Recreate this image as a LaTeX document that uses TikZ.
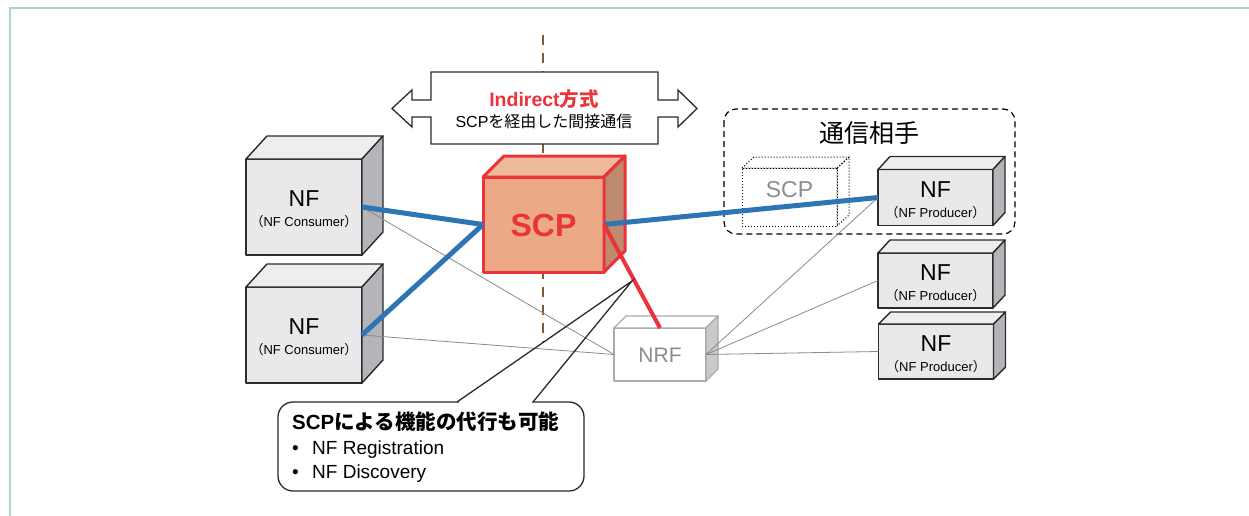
\documentclass[tikz,border=0pt]{standalone}
\usepackage{fontspec}
\setmainfont{Liberation Sans}
\newfontfamily\cjk{Noto Sans CJK JP}
\usetikzlibrary{calc}

\definecolor{frameteal}{HTML}{A8D5CE}
\definecolor{linkblue}{HTML}{2E75B6}
\definecolor{scpred}{HTML}{E8343A}
\definecolor{scpfront}{HTML}{EBA985}
\definecolor{scptop}{HTML}{EFB99B}
\definecolor{scpside}{HTML}{BE8A70}
\definecolor{nffront}{HTML}{E9E9EB}
\definecolor{nftop}{HTML}{EEEEF0}
\definecolor{nfside}{HTML}{B4B5B9}
\definecolor{nfedge}{HTML}{2B2B2B}
\definecolor{nrfedge}{HTML}{ABABAB}
\definecolor{nrfside}{HTML}{CACACC}
\definecolor{ghost}{HTML}{8C8C8C}
\definecolor{thingray}{HTML}{8A8A8A}
\definecolor{axis}{HTML}{7F5A3A}

% top and right faces of a box whose front face is the node #1
\newcommand\boxfaces[5]{%
  \draw[#4] (#1.north west) -- ++(#2,-#3) -- ([shift={(#2,-#3)}]#1.north east) -- (#1.north east) -- cycle;
  \draw[#5] (#1.north east) -- ([shift={(#2,-#3)}]#1.north east) -- ([shift={(#2,-#3)}]#1.south east) -- (#1.south east) -- cycle;
}
\newcommand\jp[1]{{\cjk #1}}

\tikzset{
  face/.style={rectangle, inner sep=0, outer sep=0},
  nfface/.style={face, draw=nfedge, fill=nffront, line width=1.4pt, line join=round},
  nftopf/.style={draw=nfedge, fill=nftop, line width=1.4pt, line join=round},
  nfsidef/.style={draw=nfedge, fill=nfside, line width=1.4pt, line join=round},
  scpface/.style={face, draw=scpred, fill=scpfront, line width=3pt, line join=round},
  scptopf/.style={draw=scpred, fill=scptop, line width=3pt, line join=round},
  scpsidef/.style={draw=scpred, fill=scpside, line width=3pt, line join=round},
  nrfface/.style={face, draw=nrfedge, fill=white, line width=1.3pt, line join=round},
  nrftopf/.style={draw=nrfedge, fill=white, line width=1.3pt, line join=round},
  nrfsidef/.style={draw=nrfedge, fill=nrfside, line width=1.3pt, line join=round},
  dotface/.style={face, draw=black, dotted, line width=1pt},
  dotf/.style={draw=black, dotted, line width=1pt},
  nfmain/.style={anchor=base, inner sep=0, font=\fontsize{23}{23}\selectfont},
  nfsub/.style={anchor=base, inner sep=0, font=\fontsize{13}{13}\selectfont},
  bluelink/.style={draw=linkblue, line width=5pt},
  redlink/.style={draw=scpred, line width=4pt},
  thinlink/.style={draw=thingray, line width=0.8pt},
  txt/.style={inner sep=0, anchor=base west},
}

\begin{document}
\begin{tikzpicture}[x=1pt, y=-1pt]
\useasboundingbox (0,0) rectangle (1249,516);
\fill[white] (0,0) rectangle (1249,516);

% outer frame
\draw[frameteal, line width=2pt] (10,516) -- (10,8) -- (1249,8);

% boundary between the two sides
\draw[axis, line width=2pt, dash pattern=on 10pt off 8pt] (543,35) -- (543,342);

% double-headed arrow banner
\draw[fill=white, draw=nfedge, line width=1.3pt, line join=miter]
  (431,72) -- (658,72) -- (658,100) -- (678,100) -- (678,90) -- (697,108.5)
  -- (678,127) -- (678,117) -- (658,117) -- (658,144) -- (431,144) -- (431,117)
  -- (412,117) -- (412,127) -- (392,108.5) -- (412,90) -- (412,100) -- (431,100) -- cycle;
\node[anchor=base, inner sep=0, text=scpred, font=\fontsize{19.5}{19.5}\selectfont\bfseries] (ttl)
  at (544,106.5) {Indirect\jp{方式}};
\node[anchor=base, inner sep=0, font=\fontsize{16}{16}\selectfont] (sub)
  at (544,128) {SCP\jp{を経由した間接通信}};

% partner group
\draw[dashed, dash pattern=on 6pt off 4pt, line width=1.2pt, rounded corners=12pt]
  (724,109) rectangle (1015,234);
\node[inner sep=0, font=\fontsize{25}{25}\selectfont] (partner) at (869,133) {\jp{通信相手}};

% ---- boxes ----
% consumers
\node[nfface, minimum width=116, minimum height=96] (nfc1) at (304,207) {};
\boxfaces{nfc1}{21}{23}{nftopf}{nfsidef}
\node[nfmain] (nfc1a) at ([yshift=1pt]nfc1.center) {NF};
\node[nfsub] (nfc1b) at ([yshift=-19.5pt]nfc1.center) {\jp{（}NF Consumer\jp{）}};

\node[nfface, minimum width=116, minimum height=96] (nfc2) at (304,335) {};
\boxfaces{nfc2}{21}{23}{nftopf}{nfsidef}
\node[nfmain] (nfc2a) at ([yshift=1pt]nfc2.center) {NF};
\node[nfsub] (nfc2b) at ([yshift=-19.5pt]nfc2.center) {\jp{（}NF Consumer\jp{）}};

% SCP
\node[scpface, minimum width=121, minimum height=95] (scp) at (543.5,224.5) {};
\boxfaces{scp}{21}{21}{scptopf}{scpsidef}
\node[anchor=base, inner sep=0, text=scpred, font=\fontsize{32}{32}\selectfont\bfseries] (scpt)
  at ([yshift=-12pt]scp.center) {SCP};

% SCP on the partner side (dotted)
\node[dotface, minimum width=95, minimum height=58] (scpd) at (789.5,197) {};
\boxfaces{scpd}{12}{11}{dotf}{dotf}
\node[anchor=base, inner sep=0, text=ghost, font=\fontsize{23}{23}\selectfont] (scpdt)
  at (scpd.center) {SCP};

% producers
\node[nfface, minimum width=115, minimum height=56] (nfp1) at (935.5,197.5) {};
\boxfaces{nfp1}{12}{13}{nftopf}{nfsidef}
\node[nfmain] (nfp1a) at ([yshift=0.5pt]nfp1.center) {NF};
\node[nfsub] (nfp1b) at ([yshift=-19.5pt]nfp1.center) {\jp{（}NF Producer\jp{）}};

\node[nfface, minimum width=115, minimum height=55] (nfp2) at (935.5,280.5) {};
\boxfaces{nfp2}{12}{13}{nftopf}{nfsidef}
\node[nfmain] (nfp2a) at ([yshift=0.5pt]nfp2.center) {NF};
\node[nfsub] (nfp2b) at ([yshift=-19.5pt]nfp2.center) {\jp{（}NF Producer\jp{）}};

\node[nfface, minimum width=115, minimum height=55] (nfp3) at (936,351.5) {};
\boxfaces{nfp3}{12}{12}{nftopf}{nfsidef}
\node[nfmain] (nfp3a) at ([yshift=0.5pt]nfp3.center) {NF};
\node[nfsub] (nfp3b) at ([yshift=-19.5pt]nfp3.center) {\jp{（}NF Producer\jp{）}};

% NRF
\node[nrfface, minimum width=92, minimum height=53] (nrf) at (660,354.5) {};
\boxfaces{nrf}{12}{12}{nrftopf}{nrfsidef}
\node[anchor=base, inner sep=0, text=ghost, font=\fontsize{21}{21}\selectfont] (nrft)
  at ([yshift=-8pt]nrf.center) {NRF};

% ---- connections ----
\draw[thinlink] (nfc1.east) -- (nrf.west);
\draw[thinlink] (nfc2.east) -- (nrf.west);
\draw[thinlink] (nrf.east) -- (nfp1.west);
\draw[thinlink] (nrf.east) -- (nfp2.west);
\draw[thinlink] (nrf.east) -- (nfp3.west);

\draw[bluelink] (nfc1.east) -- (scp.west);
\draw[bluelink] (nfc2.east) -- (scp.west);
\draw[bluelink] (scp.east) -- (nfp1.west);
\draw[redlink] (scp.east) -- (nrf.north);

% ---- callout ----
\coordinate (tip) at (632,281);
\coordinate (cl) at (457,402);
\coordinate (cr) at (533,402);
\draw[fill=white, draw=nfedge, line width=1.3pt, rounded corners=15pt] (278,402) rectangle (584,491);
\draw[white, line width=3pt] (458.5,402) -- (531.5,402);
\draw[nfedge, line width=1.3pt, line join=miter] (cl) -- (tip) -- (cr);

\node[txt, font=\fontsize{20.5}{20.5}\selectfont\bfseries] (c1) at (292,429.5) {SCP\jp{による機能の代行も可能}};
\node[txt, font=\fontsize{19}{19}\selectfont] (c2) at (289,454) {\makebox[23pt][l]{\hspace{3pt}•}NF Registration};
\node[txt, font=\fontsize{19}{19}\selectfont] (c3) at (289,478) {\makebox[23pt][l]{\hspace{3pt}•}NF Discovery};
\end{tikzpicture}
\end{document}
